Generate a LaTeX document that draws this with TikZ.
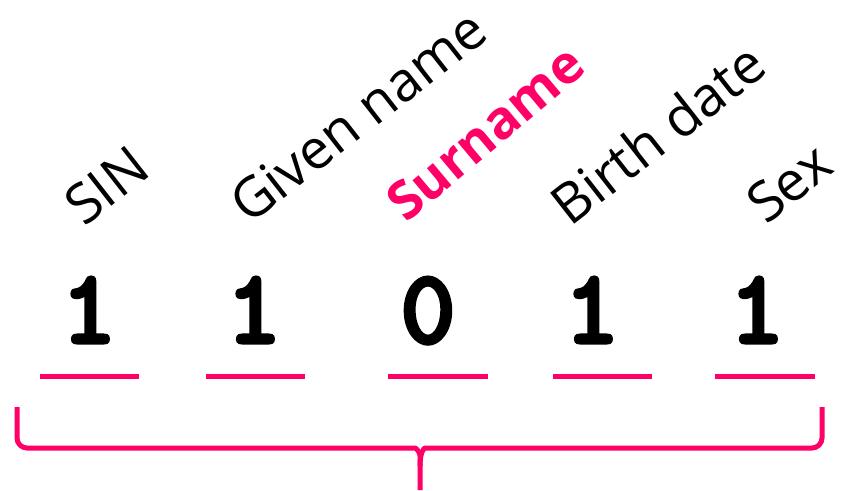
\documentclass[tikz,border=0pt]{standalone}
\usepackage{fontspec}
\setmainfont{Open Sans}
\newfontfamily\bitfont{lmmonolt10-bold.otf}[FakeBold=3]
\usepackage{tikz}
\definecolor{hotpink}{HTML}{FF0066}

\begin{document}
\begin{tikzpicture}[x=1pt, y=-1pt,
    field/.style={font=\fontsize{55}{65}\selectfont, rotate=38, anchor=base west, inner sep=0pt},
    bit/.style={font=\bitfont\fontsize{106}{116}\selectfont, anchor=base, inner sep=0pt},
    slot/.style={draw=hotpink, line width=5pt}]
        \useasboundingbox (0,0) rectangle (846,490);

        \node[field] (sin)   at (84,228)  {SIN};
        \node[field] (given) at (249,226) {Given name};
        \node[field, text=hotpink, rotate=2, font=\bfseries\fontsize{53}{63}\selectfont] (sur) at (406,224) {Surname};
        \node[field] (birth) at (570,228) {Birth date};
        \node[field] (sex)   at (766,226) {Sex};

        \node[bit] (b1) at (89,343)  {1};
        \node[bit] (b2) at (254,343) {1};
        \node[bit] (b3) at (428,343) {0};
        \node[bit] (b4) at (592,343) {1};
        \node[bit] (b5) at (757,343) {1};

        \foreach \a/\b in {40/139, 206/305, 388/488, 553/652, 715/815}
            \draw[slot] (\a,376) -- (\b,376);

        \coordinate (tip) at (420,490);
        \draw[hotpink, line width=5pt, rounded corners=10pt]
            (17,407) -- (17,448) -- (405,448) .. controls (416,448) and (420,452) .. (420,466) -- (tip);
        \draw[hotpink, line width=5pt, rounded corners=10pt]
            (822,407) -- (822,448) -- (435,448) .. controls (424,448) and (420,452) .. (420,466);
    \end{tikzpicture}
\end{document}
